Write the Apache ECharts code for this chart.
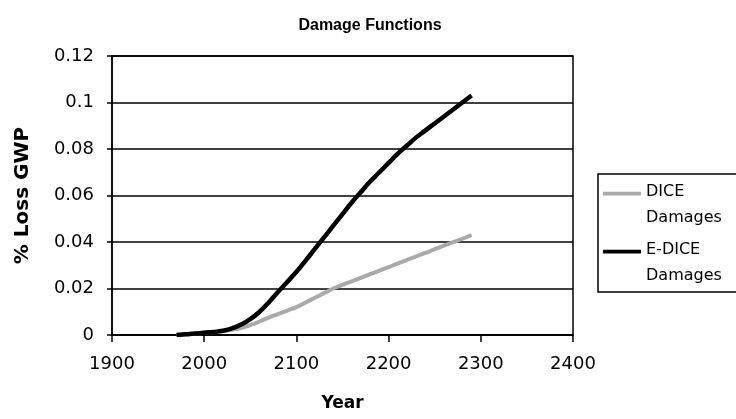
<!DOCTYPE html>
<html><head><meta charset="utf-8">
<script src="https://cdn.jsdelivr.net/npm/echarts@6/dist/echarts.min.js"></script>
<style>html,body{margin:0;padding:0;background:#fff}#c{width:736px;height:419px}</style>
</head><body><div id="c"></div>
<script>
const years = [1970,1980,1990,2000,2010,2020,2030,2040,2050,2060,2070,2080,2090,2100,2110,2120,2130,2140,2150,2160,2170,2180,2190,2200,2210,2220,2230,2240,2250,2260,2270,2280,2290];
const dice = [0,0.0003,0.0006,0.001,0.0013,0.0017,0.0023,0.003,0.0042,0.0058,0.0075,0.009,0.0105,0.012,0.014,0.016,0.018,0.02,0.0216,0.0231,0.0246,0.0262,0.0277,0.0292,0.0308,0.0323,0.0338,0.0353,0.0369,0.0384,0.0399,0.0414,0.043];
const edice = [0,0.0003,0.0006,0.001,0.0013,0.0018,0.0028,0.0045,0.0068,0.01,0.014,0.0185,0.0228,0.0272,0.032,0.037,0.042,0.047,0.052,0.057,0.0615,0.066,0.07,0.074,0.078,0.0815,0.085,0.088,0.091,0.094,0.097,0.1,0.103];
const seriesNames = ['DICE\nDamages','E-DICE\nDamages'];
const F = 'DejaVu Sans';
const lineIcon = 'path://M0,-2h40v4h-40z M0,26h0.01v0.01h-0.01z';
const chart = echarts.init(document.getElementById('c'));
chart.setOption({
  animation:false,
  title:{text:'Damage Functions',left:365,textAlign:'center',top:13,textStyle:{fontFamily:'Liberation Sans',fontWeight:'bold',fontSize:16,color:'#000'}},
  grid:{left:112,right:163,top:56,bottom:84,show:true,borderColor:'#000',borderWidth:1.5},
  legend:{orient:'vertical',left:598,top:174,borderColor:'#000',borderWidth:1.5,padding:[5,30,3,5],itemGap:6,itemWidth:38,itemHeight:28,
    icon:lineIcon,
    textStyle:{fontFamily:F,fontSize:16,color:'#000',lineHeight:26},data:seriesNames},
  xAxis:{type:'value',min:1900,max:2400,interval:100,name:'Year',nameLocation:'middle',nameGap:60,
    nameTextStyle:{fontFamily:F,fontWeight:'bold',fontSize:17,color:'#000'},
    axisLine:{lineStyle:{color:'#000',width:1.5}},axisTick:{length:7,lineStyle:{color:'#000',width:1.5}},
    axisLabel:{fontFamily:F,fontSize:18,color:'#000',margin:20,formatter:v=>String(v)},splitLine:{show:false}},
  yAxis:{type:'value',min:0,max:0.12,interval:0.02,name:'% Loss GWP',nameLocation:'middle',nameGap:79,
    nameTextStyle:{fontFamily:F,fontWeight:'bold',fontSize:20,color:'#000'},
    axisLine:{show:true,lineStyle:{color:'#000',width:1.5}},axisTick:{show:true,length:5,lineStyle:{color:'#000',width:1.5}},
    axisLabel:{fontFamily:F,fontSize:18,color:'#000',margin:18},splitLine:{lineStyle:{color:'#000',width:1.5}}},
  series:[
    {name:seriesNames[0],type:'line',showSymbol:false,symbol:'none',smooth:true,data:years.map((y,i)=>[y,dice[i]]),lineStyle:{color:'#aaaaaa',width:4},itemStyle:{color:'#aaaaaa'}},
    {name:seriesNames[1],type:'line',showSymbol:false,symbol:'none',smooth:true,data:years.map((y,i)=>[y,edice[i]]),lineStyle:{color:'#000',width:4.5},itemStyle:{color:'#000'}}
  ]
});
</script></body></html>
